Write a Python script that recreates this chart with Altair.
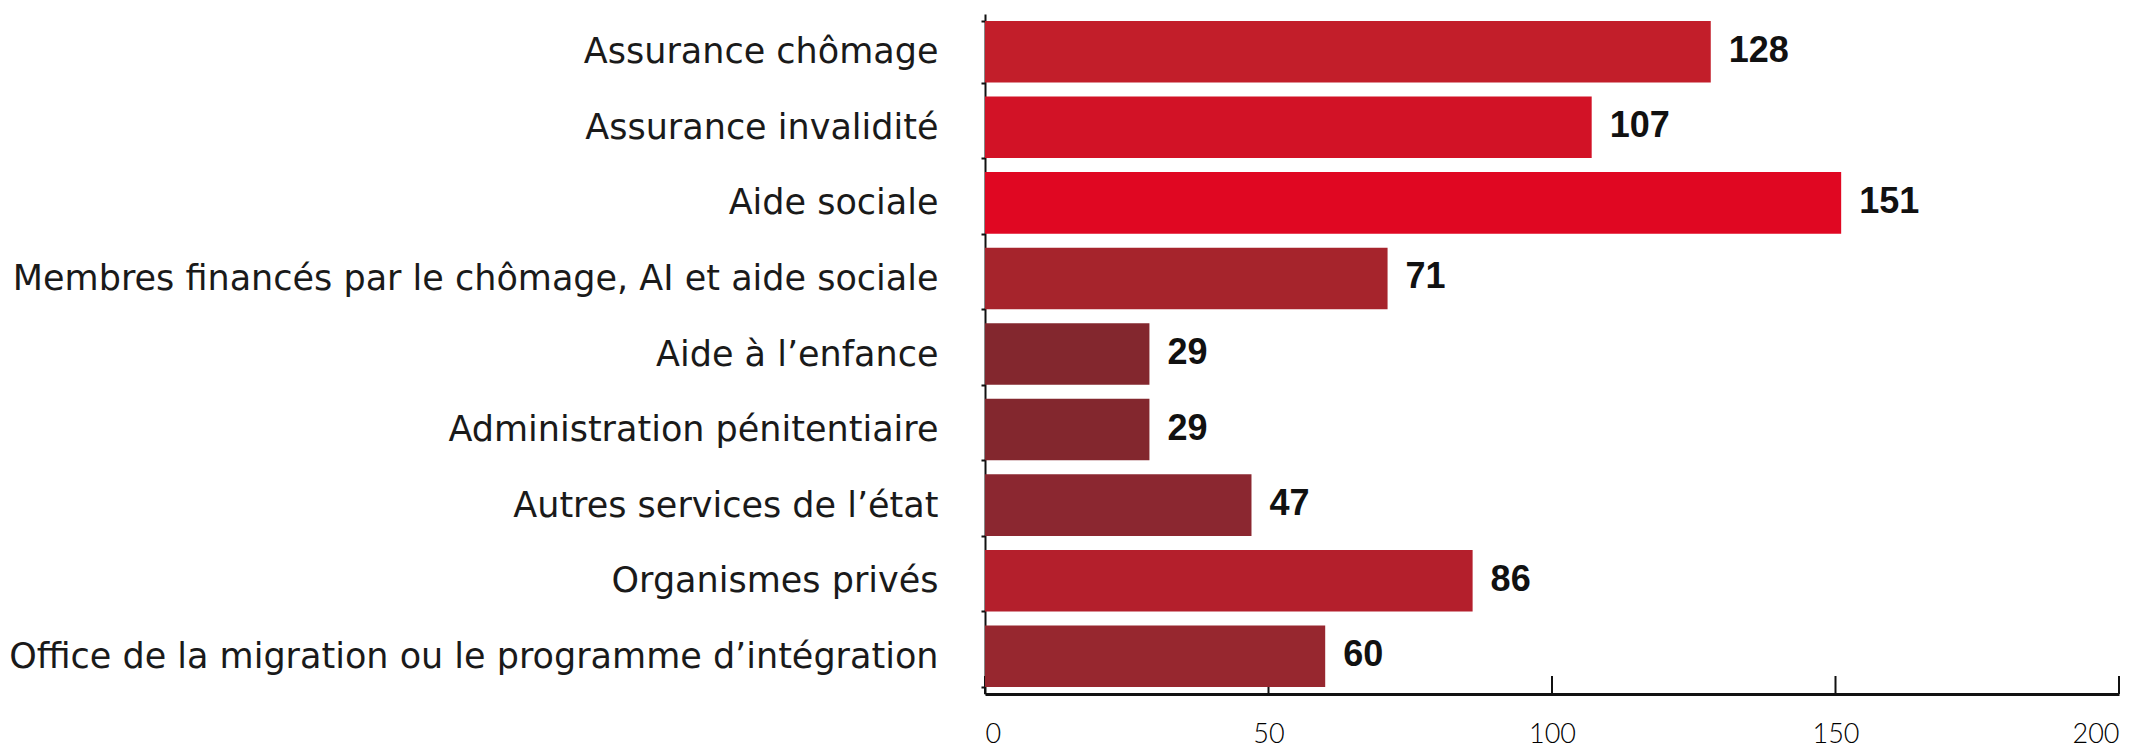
import altair as alt
import pandas as pd

categories = [
    "Assurance chômage",
    "Assurance invalidité",
    "Aide sociale",
    "Membres financés par le chômage, AI et aide sociale",
    "Aide à l’enfance",
    "Administration pénitentiaire",
    "Autres services de l’état",
    "Organismes privés",
    "Office de la migration ou le programme d’intégration",
]
values = [128, 107, 151, 71, 29, 29, 47, 86, 60]
x_ticks = [0, 50, 100, 150, 200]

palette = ["#C21E2A", "#D21226", "#E00722", "#A6242C", "#83272E",
           "#83272E", "#8B2730", "#B41F2C", "#97272F"]

df = pd.DataFrame({"cat": categories, "val": values})
ticks_df = pd.DataFrame({"t": x_ticks})

W, H = 1134, 680

x_scale = alt.Scale(domain=[0, 200], nice=False, zero=True)
y_scale = alt.Scale(domain=categories, paddingInner=0.185, paddingOuter=0.0925)

tick_rules = alt.Chart(ticks_df).mark_rule(color="#111111", strokeWidth=2).encode(
    x=alt.X("t:Q", scale=x_scale),
    y=alt.value(H - 18),
    y2=alt.value(H),
)

bars = alt.Chart(df).mark_bar().encode(
    x=alt.X("val:Q", scale=x_scale,
            axis=alt.Axis(values=x_ticks, title=None, grid=False, ticks=False,
                          domainColor="#111111", domainWidth=3,
                          labelFont="Lato", labelFontSize=27,
                          labelFontWeight=300, labelColor="#000000",
                          labelPadding=27)),
    y=alt.Y("cat:N", scale=y_scale, sort=categories,
            axis=alt.Axis(title=None, tickBand="extent", tickSize=4,
                          tickColor="#111111", tickWidth=2,
                          domainColor="#111111", domainWidth=2,
                          labelFont="DejaVu Sans", labelFontSize=35,
                          labelColor="#1a1a1a", labelPadding=43,
                          labelLimit=1200)),
    color=alt.Color("cat:N", scale=alt.Scale(domain=categories, range=palette),
                    legend=None),
)

texts = alt.Chart(df).mark_text(
    align="left", baseline="middle", dx=18, dy=-1,
    font="Liberation Sans Narrow, Liberation Sans, Arial", fontSize=36,
    fontWeight="bold", color="#111111",
).encode(
    x=alt.X("val:Q", scale=x_scale),
    y=alt.Y("cat:N", scale=y_scale, sort=categories),
    text=alt.Text("val:Q"),
)

chart = alt.layer(tick_rules, bars, texts).properties(
    width=W, height=H,
    background="white",
    autosize=alt.AutoSizeParams(type="none"),
    padding={"left": 977, "top": 6, "right": 20, "bottom": 60},
).configure_view(stroke=None)

chart.save("out.html", embed_options={"renderer": "svg", "actions": False})
